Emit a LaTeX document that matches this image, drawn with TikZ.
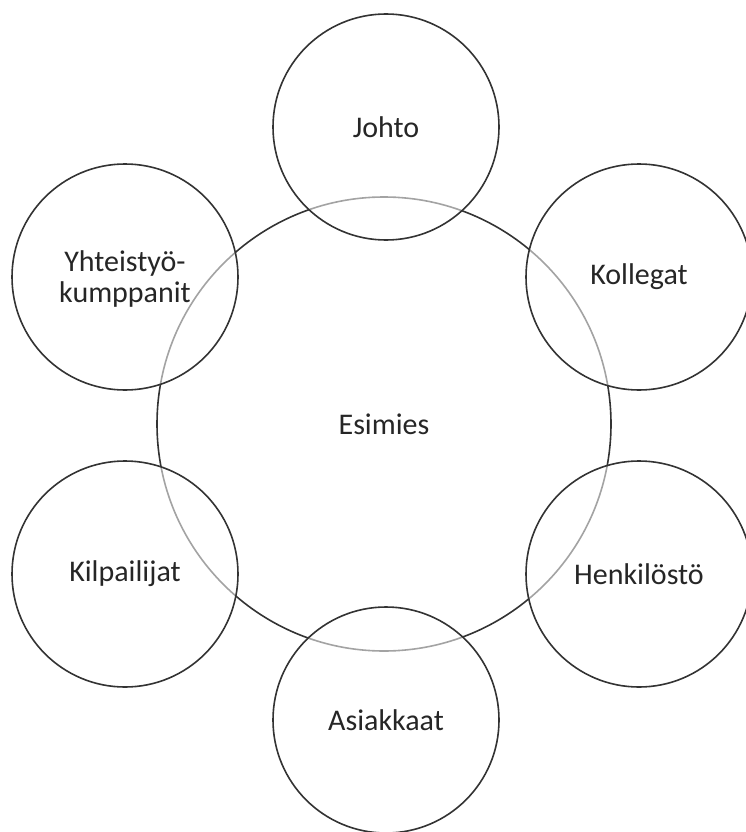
\documentclass[tikz,border=0pt]{standalone}
\usepackage{fontspec}
\setmainfont{Carlito}
\begin{document}
\begin{tikzpicture}[x=1pt,y=-1pt,
  ring/.style={circle, draw=black!80, line width=1.6pt, inner sep=0pt},
  outer/.style={ring, minimum size=226pt, fill=white, fill opacity=0.55, text opacity=1},
  lbl/.style={font=\fontsize{30}{31}\selectfont, text=black!85, align=center}]
  \useasboundingbox (0,0) rectangle (746,832);
  \clip (0,0) rectangle (746,832);
  % central circle
  \node[ring, minimum size=454pt] (c) at (384,424) {};
  \node[lbl] (ct) at (c) {Esimies};
  % surrounding circles
  \node[outer] (johto) at (386,127) {};
  \node[outer] (koll) at (639,277) {};
  \node[outer] (henk) at (639,574) {};
  \node[outer] (asia) at (386,720) {};
  \node[outer] (kilp) at (125,574) {};
  \node[outer] (yht) at (125,277) {};
  % labels
  \node[lbl] at (johto) {Johto};
  \node[lbl] at (koll) {Kollegat};
  \node[lbl] at (henk) {Henkilöstö};
  \node[lbl] at (asia) {Asiakkaat};
  \node[lbl] at (kilp) {Kilpailijat};
  \node[lbl] at ([yshift=-2pt]yht) {Yhteistyö-\\kumppanit};
\end{tikzpicture}
\end{document}
